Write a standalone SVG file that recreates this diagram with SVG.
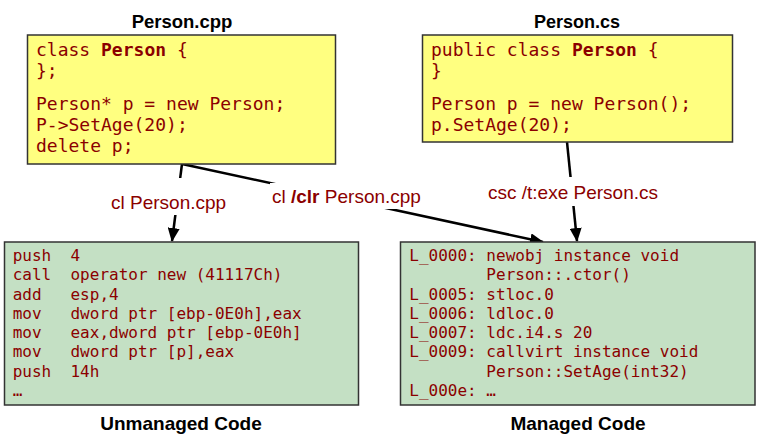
<svg xmlns="http://www.w3.org/2000/svg" width="767" height="441" viewBox="0 0 767 441">
<style>
.title{font-family:"Liberation Sans",Arial,sans-serif;font-weight:bold;fill:#000;text-anchor:middle}
.code{font-family:"DejaVu Sans Mono","Liberation Mono",monospace;fill:#8b0000;white-space:pre}
.big{font-size:18px}
.small{font-size:16px}
.b{font-weight:bold}
.yellow{fill:#ffff80;stroke:#333;stroke-width:1.5}
.green{fill:#c4e0c4;stroke:#333;stroke-width:1.5}
.edge{stroke:#000;stroke-width:2.5;fill:none}
.lbl{font-family:"Liberation Sans",Arial,sans-serif;font-size:19px;fill:#8b0000;white-space:pre}
.mask{fill:#fff}
</style>
<defs>
<marker id="arr" markerUnits="userSpaceOnUse" markerWidth="14" markerHeight="12" refX="13" refY="6" orient="auto">
<path d="M0,0 L14,6 L0,12 z" fill="#000"/>
</marker>
</defs>
<rect width="767" height="441" fill="#fff"/>
<g id="connectors">
<line class="edge" x1="182" y1="164" x2="172" y2="241" marker-end="url(#arr)"/>
<line class="edge" x1="182" y1="164" x2="543" y2="242" marker-end="url(#arr)"/>
<line class="edge" x1="567" y1="142" x2="577" y2="241" marker-end="url(#arr)"/>
<rect class="mask" x="105" y="178" width="128" height="37"/>
<text class="lbl" x="111" y="209">cl Person.cpp</text>
<rect class="mask" x="270" y="183" width="160" height="26"/>
<text class="lbl" x="272" y="203">cl <tspan class="b">/clr</tspan> Person.cpp</text>
<rect class="mask" x="484" y="177" width="182" height="29"/>
<text class="lbl" x="488" y="199">csc /t:exe Person.cs</text>
</g>
<g id="person-cpp">
<text class="title" x="182" y="28" font-size="18.5">Person.cpp</text>
<rect class="yellow" x="27.5" y="35" width="308" height="129"/>
<text class="code big" x="36" y="56">class <tspan class="b">Person</tspan> {</text>
<text class="code big" x="36" y="77">};</text>
<text class="code big" x="36" y="110">Person* p = new Person;</text>
<text class="code big" x="36" y="131">P-&gt;SetAge(20);</text>
<text class="code big" x="36" y="152">delete p;</text>
</g>
<g id="person-cs">
<text class="title" x="577" y="28" font-size="18">Person.cs</text>
<rect class="yellow" x="422.5" y="35" width="310" height="107"/>
<text class="code big" x="431" y="56">public class <tspan class="b">Person</tspan> {</text>
<text class="code big" x="431" y="77">}</text>
<text class="code big" x="431" y="110">Person p = new Person();</text>
<text class="code big" x="431" y="131">p.SetAge(20);</text>
</g>
<g id="unmanaged">
<rect class="green" x="4.5" y="242" width="354" height="163"/>
<text class="code small" x="12.7" y="261">push  4</text>
<text class="code small" x="12.7" y="280">call  operator new (41117Ch)</text>
<text class="code small" x="12.7" y="299.5">add   esp,4</text>
<text class="code small" x="12.7" y="318.5">mov   dword ptr [ebp-0E0h],eax</text>
<text class="code small" x="12.7" y="338">mov   eax,dword ptr [ebp-0E0h]</text>
<text class="code small" x="12.7" y="357">mov   dword ptr [p],eax</text>
<text class="code small" x="12.7" y="376.5">push  14h</text>
<text class="code small" x="12.7" y="395.5">…</text>
<text class="title" x="181" y="430" font-size="19">Unmanaged Code</text>
</g>
<g id="managed">
<rect class="green" x="400.5" y="242" width="354.5" height="163"/>
<text class="code small" x="409.3" y="261">L_0000: newobj instance void</text>
<text class="code small" x="409.3" y="280">        Person::.ctor()</text>
<text class="code small" x="409.3" y="299.5">L_0005: stloc.0</text>
<text class="code small" x="409.3" y="318.5">L_0006: ldloc.0</text>
<text class="code small" x="409.3" y="338">L_0007: ldc.i4.s 20</text>
<text class="code small" x="409.3" y="357">L_0009: callvirt instance void</text>
<text class="code small" x="409.3" y="376.5">        Person::SetAge(int32)</text>
<text class="code small" x="409.3" y="395.5">L_000e: …</text>
<text class="title" x="578" y="430" font-size="19">Managed Code</text>
</g>
</svg>
